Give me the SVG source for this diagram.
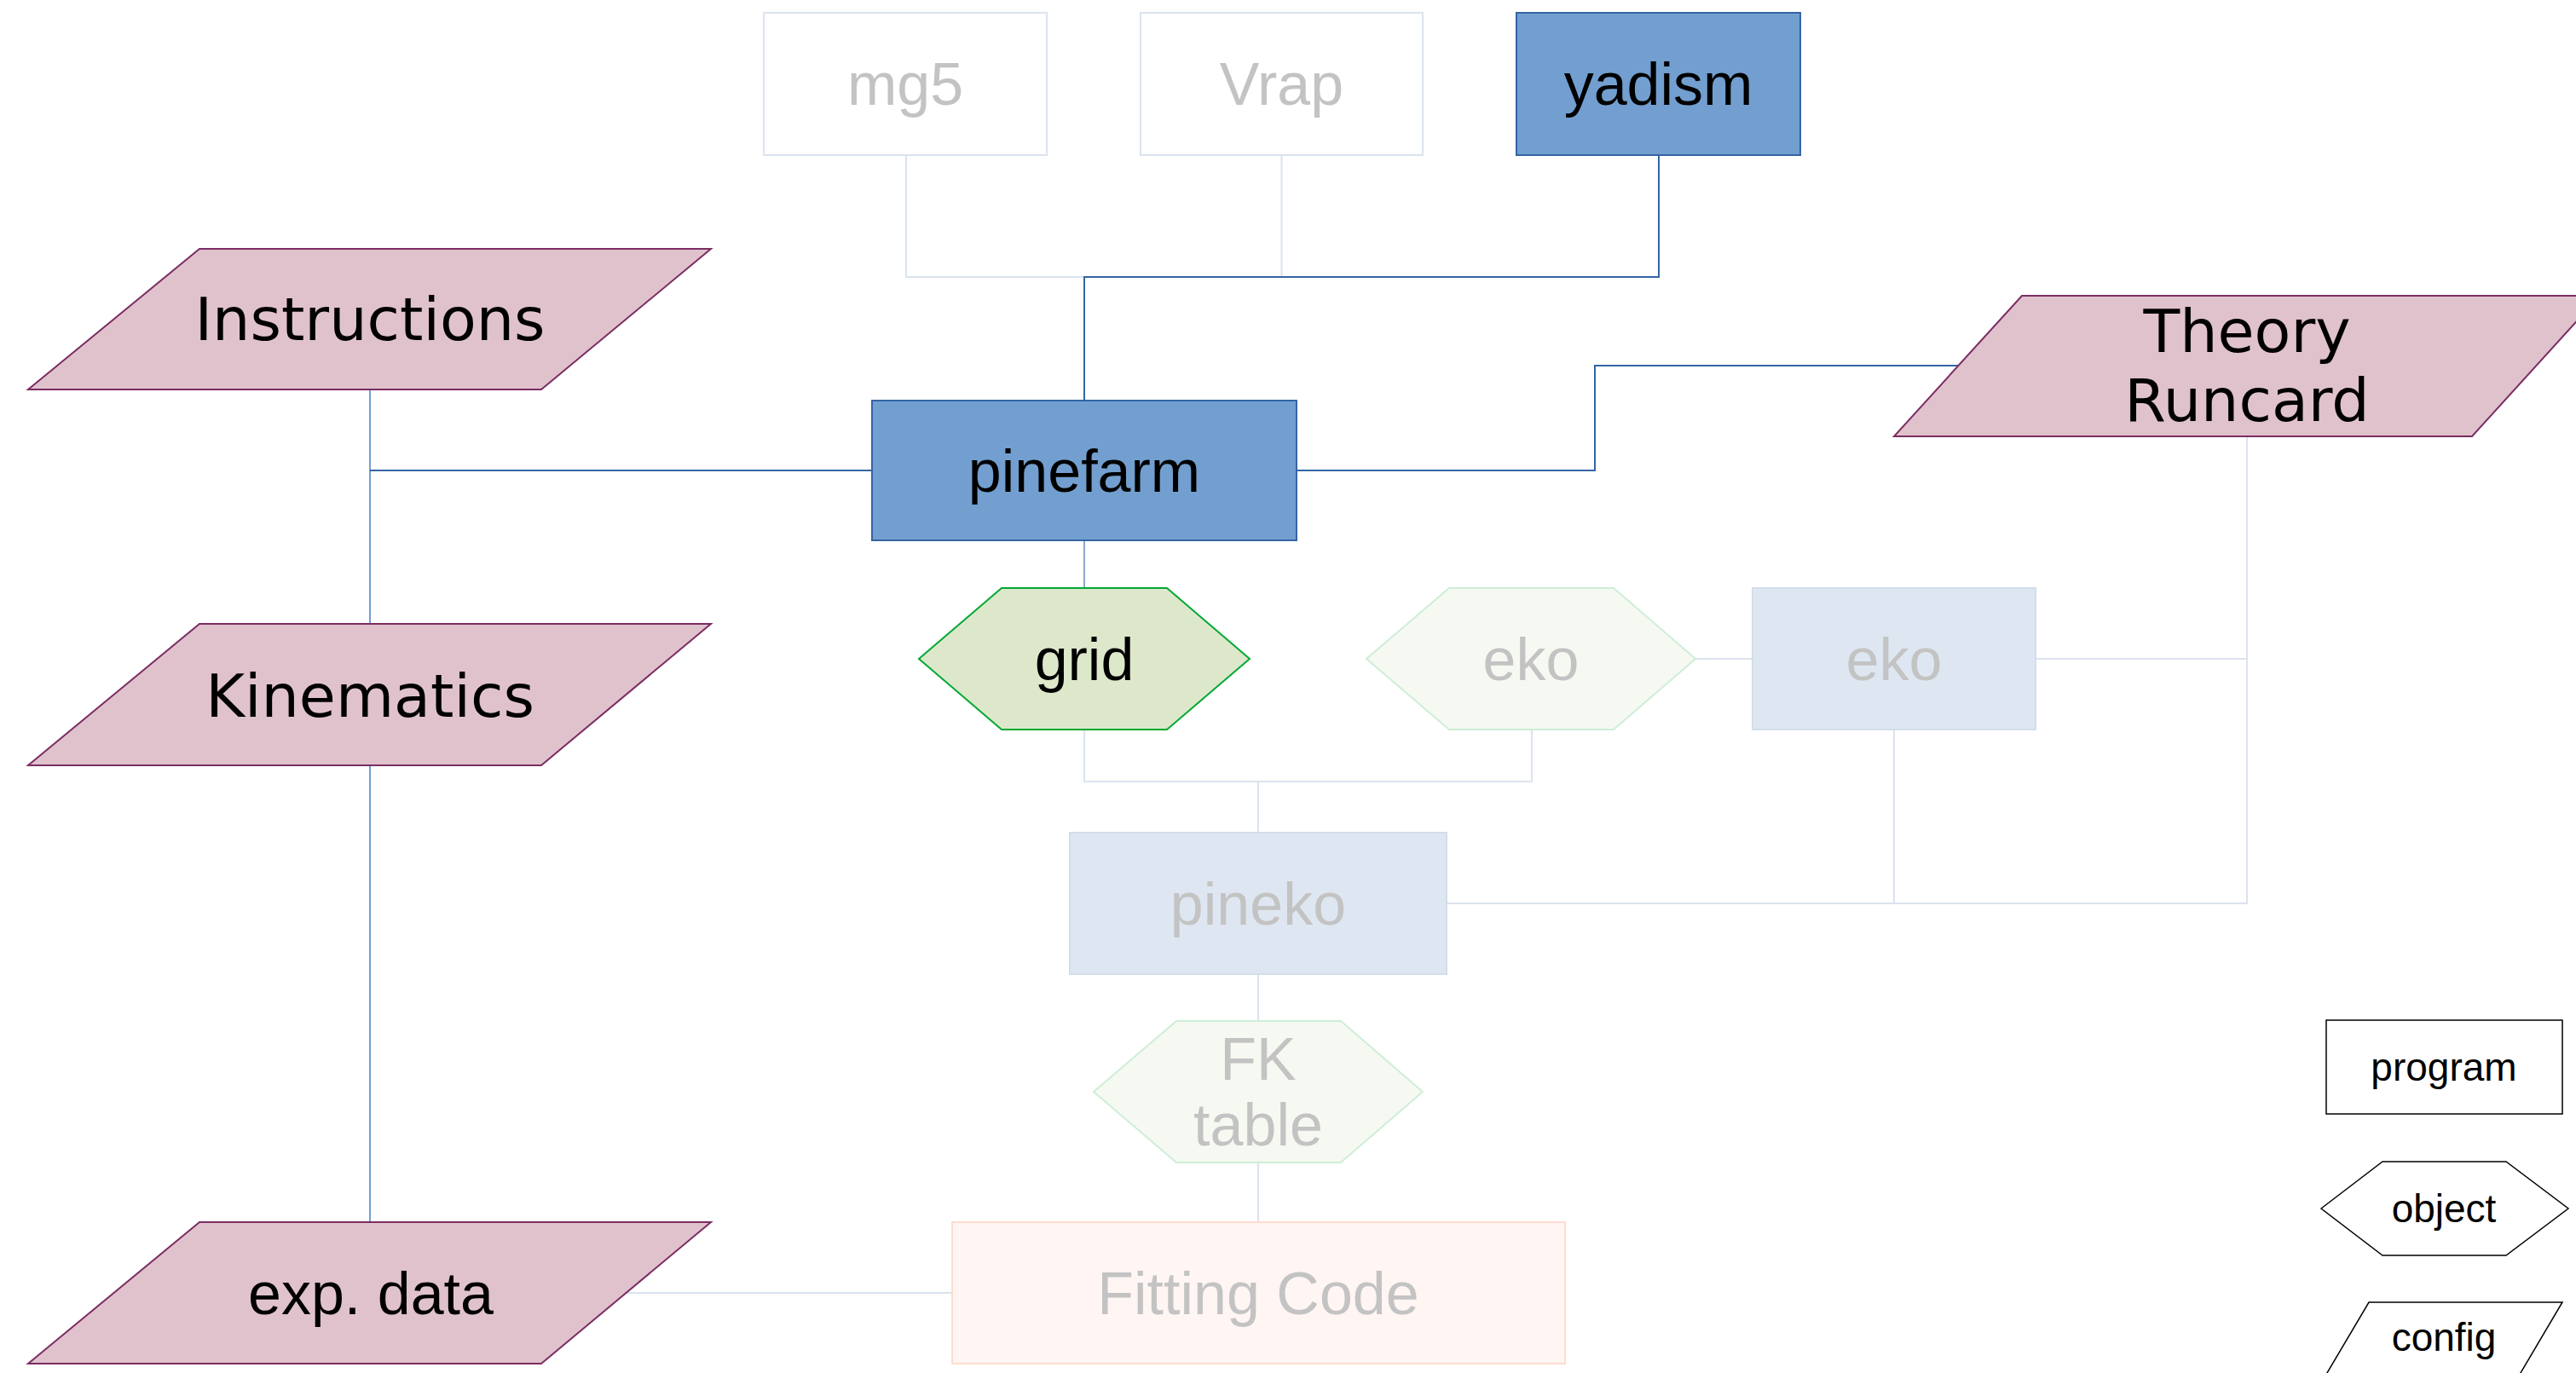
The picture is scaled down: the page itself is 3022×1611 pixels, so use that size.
<svg xmlns="http://www.w3.org/2000/svg" width="3022" height="1611" viewBox="0 0 3022 1611">
<style>
.prog{fill:#729fcf;stroke:#3465a4;stroke-width:2}
.fprog{fill:#ffffff;stroke:#dbe3ee;stroke-width:2}
.fprog2{fill:#dee7f1;stroke:#d3deea;stroke-width:2}
.fit{fill:#fff5f3;stroke:#ffdccf;stroke-width:2}
.cfg{fill:#e0c2cd;stroke:#7b2d62;stroke-width:2}
.obj{fill:#dde8cb;stroke:#00a933;stroke-width:2}
.fobj{fill:#f6f9f1;stroke:#cdeed7;stroke-width:2}
.leg{fill:#ffffff;stroke:#000000;stroke-width:1.5}
.t{font-family:"Liberation Sans",Arial,sans-serif;font-size:70px;text-anchor:middle;fill:#000}
.d{font-family:"DejaVu Sans",sans-serif;font-size:70px;text-anchor:middle;fill:#000}
.ft{fill:#c3c3c3}
.lt{font-family:"Liberation Sans",Arial,sans-serif;font-size:46px;text-anchor:middle;fill:#000}
.c{fill:none;stroke-width:2}
.cd{stroke:#3465a4}
.cm{stroke:#729fcf}
.cg{stroke:#8da6cf}
.cf{stroke:#dbe3ee}
</style>
<g id="connectors">
<path class="c cf" d="M1063,182 V325 H1272"/>
<path class="c cf" d="M1503.5,182 V325"/>
<path class="c cd" d="M1946,182 V325 H1272 V470"/>
<path class="c cm" d="M434,457 V732"/>
<path class="c cd" d="M434,552 H1023"/>
<path class="c cm" d="M434,898 V1434"/>
<path class="c cf" d="M735,1517 H1117"/>
<path class="c cd" d="M1521,552 H1871 V429 H2297"/>
<path class="c cg" d="M1272,634 V690"/>
<path class="c cf" d="M1272,856 V917 H1797 V856"/>
<path class="c cf" d="M1476,917 V977"/>
<path class="c cf" d="M1989,773 H2056"/>
<path class="c cf" d="M2388,773 H2636"/>
<path class="c cf" d="M2636,512 V1060 H1697"/>
<path class="c cf" d="M2222,856 V1060"/>
<path class="c cf" d="M1476,1143 V1198"/>
<path class="c cf" d="M1476,1364 V1434"/>
</g>
<g id="mg5"><rect class="fprog" x="896" y="15" width="332" height="167"/><text class="t ft" x="1062" y="123">mg5</text></g>
<g id="vrap"><rect class="fprog" x="1338" y="15" width="331" height="167"/><text class="t ft" x="1503.5" y="123">Vrap</text></g>
<g id="yadism"><rect class="prog" x="1779" y="15" width="333" height="167"/><text class="t" x="1945.5" y="123">yadism</text></g>
<g id="instructions"><polygon class="cfg" points="234,292 834,292 635,457 33,457"/><text class="d" x="434" y="399">Instructions</text></g>
<g id="pinefarm"><rect class="prog" x="1023" y="470" width="498" height="164"/><text class="t" x="1272" y="577">pinefarm</text></g>
<g id="theory-runcard"><polygon class="cfg" points="2372,347 3050,347 2900,512 2222,512"/><text class="d" x="2636" y="413">Theory</text><text class="d" x="2636" y="494">Runcard</text></g>
<g id="kinematics"><polygon class="cfg" points="234,732 834,732 635,898 33,898"/><text class="d" x="434" y="841">Kinematics</text></g>
<g id="grid"><polygon class="obj" points="1078,773 1175,690 1369,690 1466,773 1369,856 1175,856"/><text class="t" x="1272" y="798">grid</text></g>
<g id="eko-object"><polygon class="fobj" points="1603,773 1700,690 1893,690 1989,773 1893,856 1700,856"/><text class="t ft" x="1796" y="798">eko</text></g>
<g id="eko-program"><rect class="fprog2" x="2056" y="690" width="332" height="166"/><text class="t ft" x="2222" y="798">eko</text></g>
<g id="pineko"><rect class="fprog2" x="1255" y="977" width="442" height="166"/><text class="t ft" x="1476" y="1085">pineko</text></g>
<g id="fk-table"><polygon class="fobj" points="1283,1281 1380,1198 1573,1198 1669,1281 1573,1364 1380,1364"/><text class="t ft" x="1476" y="1267">FK</text><text class="t ft" x="1476" y="1344">table</text></g>
<g id="exp-data"><polygon class="cfg" points="234,1434 834,1434 635,1600 33,1600"/><text class="t" x="435" y="1542">exp. data</text></g>
<g id="fitting-code"><rect class="fit" x="1117" y="1434" width="719" height="166"/><text class="t ft" x="1476" y="1542">Fitting Code</text></g>
<g id="legend-program"><rect class="leg" x="2729" y="1197" width="277" height="110"/><text class="lt" x="2867" y="1268">program</text></g>
<g id="legend-object"><polygon class="leg" points="2723,1418 2795,1363 2940,1363 3013,1418 2940,1473 2795,1473"/><text class="lt" x="2867" y="1434">object</text></g>
<g id="legend-config"><polygon class="leg" points="2779,1528 3006,1528 2941,1638 2714,1638"/><text class="lt" x="2867" y="1585">config</text></g>
</svg>
